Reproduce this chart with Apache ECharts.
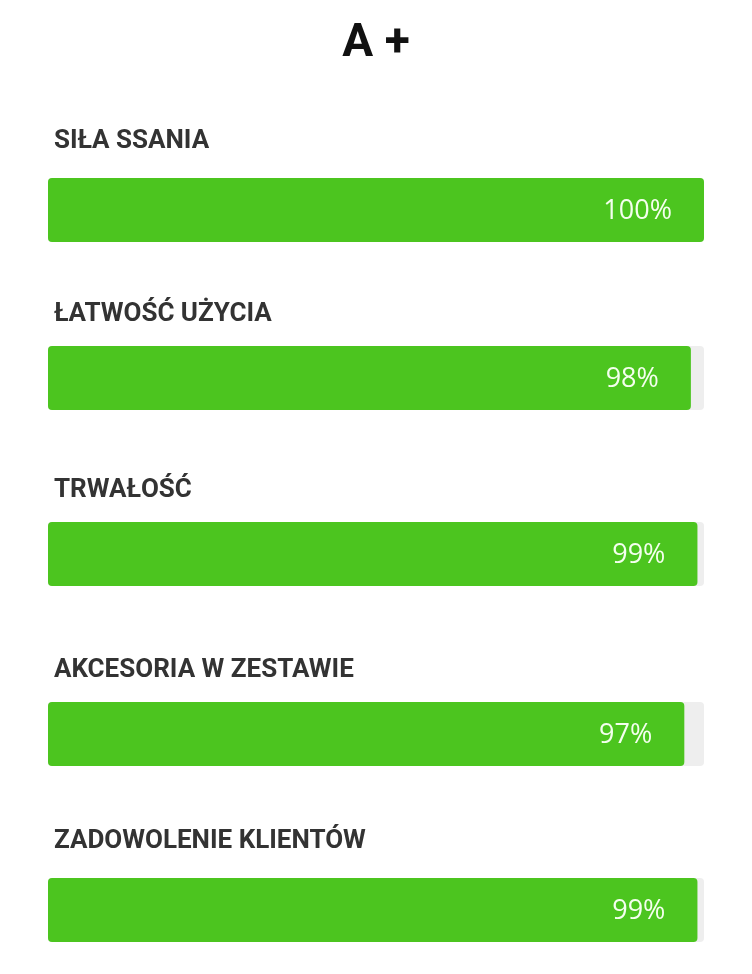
<!DOCTYPE html>
<html>
<head>
<meta charset="utf-8">
<script src="https://cdn.jsdelivr.net/npm/echarts@6/dist/echarts.min.js"></script>
<style>
html,body{margin:0;padding:0;background:#fff;}
#c{width:752px;height:974px;}
</style>
</head>
<body>
<div id="c"></div>
<script>
var titleText = 'A +';
var categories = ['SIŁA SSANIA', 'ŁATWOŚĆ UŻYCIA', 'TRWAŁOŚĆ', 'AKCESORIA W ZESTAWIE', 'ZADOWOLENIE KLIENTÓW'];
var values = [100, 98, 99, 97, 99];

var gridTops = [178, 346, 522, 702, 878];
var nameGaps = [37, 32, 32, 32, 37];

var chart = echarts.init(document.getElementById('c'));
var grids = [], xAxes = [], yAxes = [], series = [];
categories.forEach(function (cat, i) {
  grids.push({left: 48, right: 48, top: gridTops[i], height: 64, containLabel: false});
  xAxes.push({type: 'value', gridIndex: i, min: 0, max: 100, show: false});
  yAxes.push({
    type: 'category', gridIndex: i, data: [cat],
    axisLine: {show: false}, axisTick: {show: false}, axisLabel: {show: false}, splitLine: {show: false},
    name: cat, nameLocation: 'end', nameGap: nameGaps[i],
    nameTextStyle: {
      fontFamily: 'Roboto', fontWeight: 'bold', fontSize: 26, color: '#333333',
      align: 'left', verticalAlign: 'middle', padding: [0, 0, 0, 6]
    }
  });
  series.push({
    type: 'bar', xAxisIndex: i, yAxisIndex: i,
    data: [values[i]], barWidth: 64,
    showBackground: true,
    backgroundStyle: {color: '#eeeeee', borderRadius: 4},
    itemStyle: {color: '#4cc51f', borderRadius: 4},
    label: {
      show: true, position: 'insideRight', distance: 32, offset: [0, 1],
      formatter: '{c}%', color: '#f4ffee',
      fontFamily: 'Open Sans', fontSize: 27, fontWeight: 'normal'
    },
    silent: true, animation: false
  });
});

chart.setOption({
  animation: false,
  title: {
    text: titleText, left: 'center', top: 16,
    textStyle: {fontFamily: 'Roboto', fontWeight: 'bold', fontSize: 46, color: '#111111', lineHeight: 46}
  },
  grid: grids, xAxis: xAxes, yAxis: yAxes, series: series
});
</script>
</body>
</html>
